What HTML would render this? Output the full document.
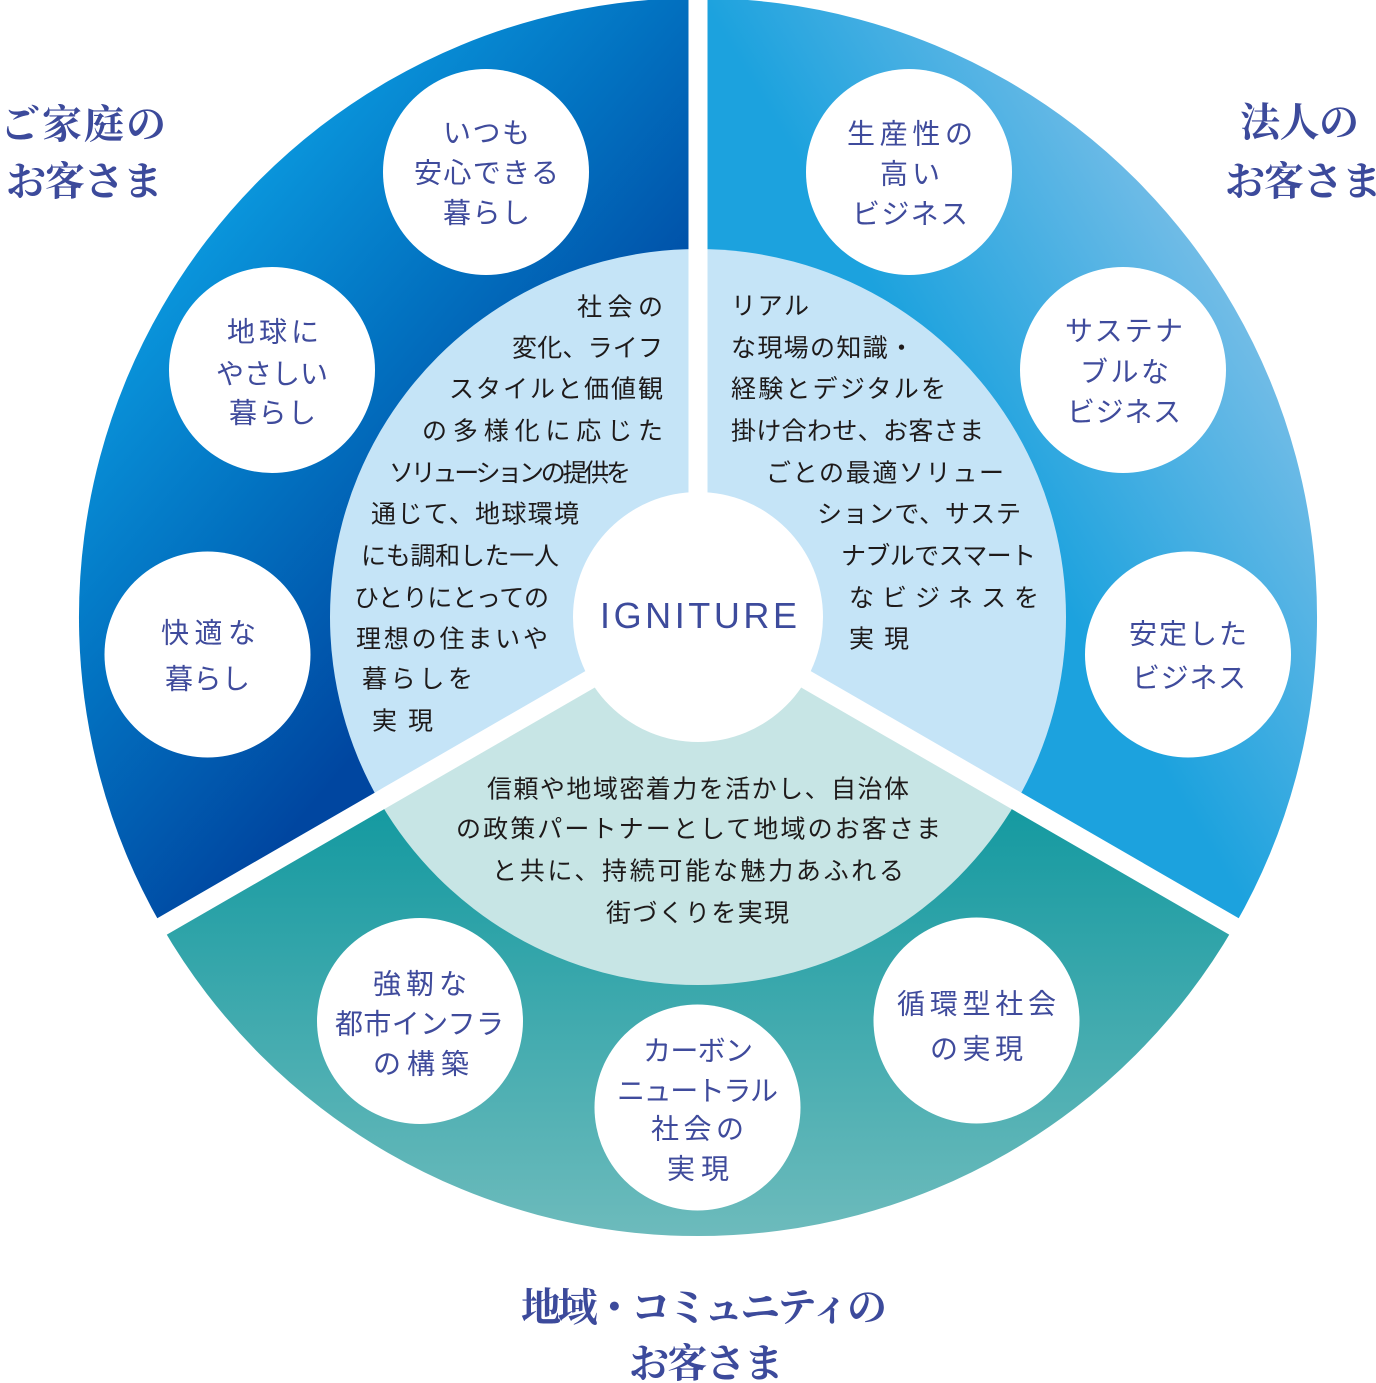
<!DOCTYPE html>
<html><head><meta charset="utf-8">
<style>
html,body{margin:0;padding:0;background:#fff;}
svg{display:block;}
.h{font-family:"Liberation Serif","Noto Serif CJK SC","Noto Serif CJK JP",serif;font-size:40px;font-weight:bold;fill:#3c4a9b;}
.c{font-family:"Liberation Sans","Noto Sans CJK JP",sans-serif;font-size:28px;fill:#3f4b9c;}
.b{font-family:"Liberation Sans","Noto Sans CJK JP",sans-serif;font-size:25px;fill:#1e1a1a;}
.logo{font-family:"Liberation Sans","DejaVu Sans",sans-serif;font-size:36px;fill:#3d4b9c;}
</style></head>
<body>
<svg width="1376" height="1383" viewBox="0 0 1376 1383" xmlns="http://www.w3.org/2000/svg">
<defs>
<linearGradient id="gL" gradientUnits="userSpaceOnUse" x1="150" y1="250" x2="520" y2="560">
<stop offset="0" stop-color="#0b9be0"/><stop offset="0.5" stop-color="#0271c0"/><stop offset="1" stop-color="#0046a0"/>
</linearGradient>
<linearGradient id="gR" gradientUnits="userSpaceOnUse" x1="720" y1="30" x2="1046" y2="-165">
<stop offset="0" stop-color="#1ca2de"/><stop offset="1" stop-color="#88c3e9"/>
</linearGradient>
<linearGradient id="gB" gradientUnits="userSpaceOnUse" x1="0" y1="800" x2="0" y2="1236">
<stop offset="0" stop-color="#1399a0"/><stop offset="1" stop-color="#6dbbbc"/>
</linearGradient>
</defs>

<!-- outer wedges -->
<path d="M698 617 L161.9 926.5 A619 619 0 0 1 698 -2 Z" fill="url(#gL)"/>
<path d="M698 617 L698 -2 A619 619 0 0 1 1234.1 926.5 Z" fill="url(#gR)"/>
<path d="M698 617 L1234.1 926.5 A619 619 0 0 1 161.9 926.5 Z" fill="url(#gB)"/>

<!-- inner sectors -->
<path d="M698 617 L379.3 801 A368 368 0 0 1 698 249 Z" fill="#c5e4f7"/>
<path d="M698 617 L698 249 A368 368 0 0 1 1016.7 801 Z" fill="#c5e4f7"/>
<path d="M698 617 L1016.7 801 A368 368 0 0 1 379.3 801 Z" fill="#c7e5e5"/>

<!-- gaps -->
<g stroke="#fff" stroke-width="19" stroke-linecap="butt">
<line x1="698" y1="617" x2="698" y2="-20"/>
<line x1="698" y1="617" x2="1304.2" y2="967"/>
<line x1="698" y1="617" x2="91.8" y2="967"/>
</g>

<!-- center circle -->
<circle cx="698" cy="617" r="125" fill="#fff"/>
<text class="logo" x="600" y="628" textLength="197" lengthAdjust="spacing">IGNITURE</text>

<!-- small circles -->
<g fill="#fff">
<circle cx="486" cy="172" r="103"/>
<circle cx="272" cy="370" r="103"/>
<circle cx="207.5" cy="654.5" r="103"/>
<circle cx="909" cy="172" r="103"/>
<circle cx="1123" cy="370" r="103"/>
<circle cx="1188" cy="654.5" r="103"/>
<circle cx="420" cy="1021" r="103"/>
<circle cx="697.5" cy="1107.5" r="103"/>
<circle cx="976.5" cy="1020.5" r="103"/>
</g>

<!-- circle labels -->
<g class="c" text-anchor="middle">
<text x="486.5" y="142.5" textLength="87" lengthAdjust="spacing">いつも</text>
<text x="486.5" y="182.5" textLength="145" lengthAdjust="spacing">安心できる</text>
<text x="486.5" y="222.5" textLength="87" lengthAdjust="spacing">暮らし</text>

<text x="273" y="341.5" textLength="92" lengthAdjust="spacing">地球に</text>
<text x="272" y="383.5" textLength="112" lengthAdjust="spacing">やさしい</text>
<text x="272.5" y="422.5" textLength="87" lengthAdjust="spacing">暮らし</text>

<text x="208.5" y="642.5" textLength="95" lengthAdjust="spacing">快適な</text>
<text x="207.5" y="688.5" textLength="85" lengthAdjust="spacing">暮らし</text>

<text x="910" y="143.5" textLength="126" lengthAdjust="spacing">生産性の</text>
<text x="910" y="183.5" textLength="60" lengthAdjust="spacing">高い</text>
<text x="910" y="223.5" textLength="116" lengthAdjust="spacing">ビジネス</text>

<text x="1124" y="340.5" textLength="118" lengthAdjust="spacing">サステナ</text>
<text x="1124.5" y="381.5" textLength="89" lengthAdjust="spacing">ブルな</text>
<text x="1124" y="421.5" textLength="114" lengthAdjust="spacing">ビジネス</text>

<text x="1188" y="643.5" textLength="118" lengthAdjust="spacing">安定した</text>
<text x="1189" y="687.5" textLength="114" lengthAdjust="spacing">ビジネス</text>

<text x="420" y="993.5" textLength="94" lengthAdjust="spacing">強靭な</text>
<text x="419.5" y="1033.5" textLength="169" lengthAdjust="spacing">都市インフラ</text>
<text x="421" y="1073.5" textLength="96" lengthAdjust="spacing">の構築</text>

<text x="698" y="1060.5" textLength="110" lengthAdjust="spacing">カーボン</text>
<text x="697.5" y="1100.5" textLength="161" lengthAdjust="spacing">ニュートラル</text>
<text x="697.5" y="1138.5" textLength="93" lengthAdjust="spacing">社会の</text>
<text x="698" y="1178.5" textLength="62" lengthAdjust="spacing">実現</text>

<text x="976.5" y="1013.5" textLength="159" lengthAdjust="spacing">循環型社会</text>
<text x="976.5" y="1058.5" textLength="93" lengthAdjust="spacing">の実現</text>
</g>

<!-- left block -->
<g class="b">
<text x="577" y="315.5" textLength="86" lengthAdjust="spacing">社会の</text>
<text x="512" y="356.5" textLength="151" lengthAdjust="spacing">変化、ライフ</text>
<text x="449" y="397.5" textLength="214" lengthAdjust="spacing">スタイルと価値観</text>
<text x="422" y="439.5" textLength="241" lengthAdjust="spacing">の多様化に応じた</text>
<text x="389" y="481.5" textLength="242" lengthAdjust="spacing">ソリューションの提供を</text>
<text x="371" y="522.5" textLength="208" lengthAdjust="spacing">通じて、地球環境</text>
<text x="361" y="564.5" textLength="198" lengthAdjust="spacing">にも調和した一人</text>
<text x="354" y="606.5" textLength="195" lengthAdjust="spacing">ひとりにとっての</text>
<text x="356" y="647.5" textLength="192" lengthAdjust="spacing">理想の住まいや</text>
<text x="362" y="687.5" textLength="111" lengthAdjust="spacing">暮らしを</text>
<text x="372" y="729.5" textLength="61" lengthAdjust="spacing">実現</text>
</g>

<!-- right block -->
<g class="b">
<text x="731" y="314.5" textLength="78" lengthAdjust="spacing">リアル</text>
<text x="731" y="356.5" textLength="183" lengthAdjust="spacing">な現場の知識・</text>
<text x="731" y="397.5" textLength="215" lengthAdjust="spacing">経験とデジタルを</text>
<text x="731" y="439.5" textLength="253" lengthAdjust="spacing">掛け合わせ、お客さま</text>
<text x="766" y="481.5" textLength="238" lengthAdjust="spacing">ごとの最適ソリュー</text>
<text x="817" y="522.5" textLength="204" lengthAdjust="spacing">ションで、サステ</text>
<text x="841" y="564.5" textLength="195" lengthAdjust="spacing">ナブルでスマート</text>
<text x="849" y="606.5" textLength="190" lengthAdjust="spacing">なビジネスを</text>
<text x="849" y="647.5" textLength="60" lengthAdjust="spacing">実現</text>
</g>

<!-- bottom block -->
<g class="b">
<text x="487" y="797.5" textLength="422" lengthAdjust="spacing">信頼や地域密着力を活かし、自治体</text>
<text x="456" y="837.5" textLength="485" lengthAdjust="spacing">の政策パートナーとして地域のお客さま</text>
<text x="492" y="879.5" textLength="412" lengthAdjust="spacing">と共に、持続可能な魅力あふれる</text>
<text x="606" y="921.5" textLength="183" lengthAdjust="spacing">街づくりを実現</text>
</g>

<!-- headings -->
<g class="h">
<text x="0" y="138" textLength="166" lengthAdjust="spacing">ご家庭の</text>
<text x="6" y="195" textLength="157" lengthAdjust="spacing">お客さま</text>
<text x="1240" y="136" textLength="119" lengthAdjust="spacing">法人の</text>
<text x="1225" y="195" textLength="157" lengthAdjust="spacing">お客さま</text>
<text x="521" y="1321" textLength="366" lengthAdjust="spacing">地域・コミュニティの</text>
<text x="629" y="1377" textLength="155" lengthAdjust="spacing">お客さま</text>
</g>
</svg>
</body></html>
